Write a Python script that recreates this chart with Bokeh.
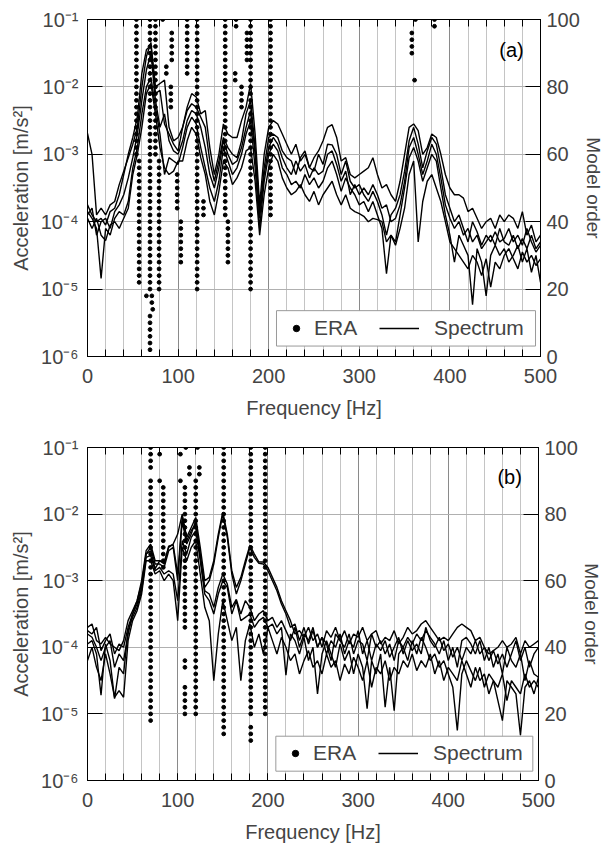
from bokeh.plotting import figure
from bokeh.models import (Range1d, LinearAxis, FixedTicker, SingleIntervalTicker,
                          Label, Legend, LegendItem, LinearScale, BoxAnnotation)
from bokeh.layouts import column
from bokeh.embed import file_html
from bokeh.resources import INLINE

FONT = "Liberation Sans"

# frequency bins [Hz]
freq = list(range(0, 501, 5))
# model orders used by ERA
model_orders = list(range(2, 101, 2))

# ---- panel (a): spectra, log10 of acceleration [m/s^2] ----
a1 = [-2.69,-3.0,-3.9,-3.8,-3.9,-3.75,-3.7,-3.45,-3.25,-3.05,-2.85,-2.6,-2.0,-1.55,-1.34,-2.0,-1.95,-1.9,-2.6,-2.8,
      -2.75,-2.6,-2.3,-2.1,-2.15,-2.4,-2.35,-2.9,-3.3,-3.0,-2.55,-2.7,-2.75,-2.75,-2.5,-2.3,-1.95,-2.7,-3.75,-3.0,
      -2.6,-2.5,-2.55,-2.7,-2.85,-3.0,-2.85,-3.1,-3.0,-3.2,-3.05,-2.95,-2.8,-2.6,-2.56,-2.75,-3.1,-3.05,-3.3,-3.35,
      -3.3,-3.25,-3.2,-3.05,-3.3,-3.5,-3.45,-3.6,-3.7,-3.4,-3.0,-2.6,-2.55,-2.65,-3.0,-2.9,-2.7,-2.75,-3.0,-3.3,
      -3.5,-3.6,-3.6,-3.65,-3.85,-3.8,-3.95,-4.1,-4.0,-3.95,-4.1,-3.9,-4.0,-3.9,-3.95,-4.1,-3.85,-4.2,-4.05,-4.3,-4.2]
a2 = [-3.75,-3.9,-4.0,-3.95,-4.05,-3.85,-3.8,-3.6,-3.3,-3.0,-2.75,-2.45,-1.8,-1.45,-1.38,-2.1,-2.05,-2.55,-2.7,-2.85,
      -2.95,-2.6,-2.35,-2.25,-2.3,-2.45,-2.6,-3.1,-3.4,-3.1,-2.75,-2.9,-3.0,-3.05,-2.8,-2.4,-2.2,-2.9,-3.85,-3.2,
      -2.75,-2.7,-2.75,-2.95,-3.05,-3.1,-3.3,-3.05,-2.95,-3.2,-3.25,-3.0,-3.15,-2.85,-2.86,-3.0,-3.3,-3.1,-3.4,-3.5,
      -3.45,-3.6,-3.7,-3.55,-3.7,-3.9,-4.2,-3.9,-3.8,-3.6,-3.25,-2.8,-2.6,-2.85,-3.2,-2.95,-2.75,-2.85,-3.2,-3.6,
      -3.8,-4.0,-3.9,-4.1,-4.3,-4.0,-4.15,-4.35,-4.2,-4.3,-4.15,-4.3,-4.25,-4.1,-4.3,-4.2,-4.35,-4.1,-4.3,-4.45,-4.35]
a3 = [-3.85,-3.95,-4.1,-4.84,-4.1,-4.2,-3.95,-3.85,-3.9,-3.7,-3.2,-2.9,-2.4,-2.0,-1.86,-2.3,-2.7,-3.3,-3.05,-3.1,
      -3.15,-2.9,-2.6,-2.45,-2.55,-2.9,-3.2,-3.5,-3.7,-3.4,-2.9,-3.1,-3.3,-3.2,-3.0,-2.7,-2.5,-3.2,-4.1,-3.4,
      -3.0,-2.85,-2.95,-3.2,-3.3,-3.45,-3.4,-3.5,-3.3,-3.45,-3.35,-3.5,-3.4,-3.2,-3.1,-3.3,-3.55,-3.35,-3.5,-3.6,
      -3.75,-3.7,-3.85,-3.7,-3.9,-4.1,-4.77,-4.2,-4.3,-3.9,-3.5,-3.05,-2.9,-3.1,-3.4,-3.2,-3.0,-3.1,-3.5,-3.9,
      -4.2,-4.6,-4.2,-4.35,-4.5,-5.23,-4.4,-4.6,-5.1,-4.5,-4.35,-4.5,-4.4,-4.6,-4.5,-4.35,-4.6,-4.4,-4.75,-4.5,-4.9]
a4 = [-3.95,-4.1,-3.95,-4.2,-4.28,-4.05,-4.0,-4.1,-3.95,-3.8,-3.3,-3.0,-2.6,-2.1,-1.95,-2.4,-2.9,-3.2,-3.3,-3.25,
      -3.1,-3.1,-2.8,-2.6,-2.7,-3.05,-3.3,-3.7,-3.9,-3.55,-3.1,-3.2,-3.45,-3.35,-3.2,-2.95,-2.9,-3.4,-4.2,-3.6,
      -3.2,-3.0,-3.1,-3.35,-3.5,-3.6,-3.55,-3.45,-3.6,-3.7,-3.55,-3.75,-3.6,-3.5,-3.4,-3.6,-3.75,-3.6,-3.8,-3.85,
      -3.88,-3.92,-4.0,-3.95,-3.97,-4.0,-4.3,-4.2,-4.35,-4.1,-3.8,-3.3,-3.1,-4.3,-3.7,-3.4,-3.3,-3.5,-3.7,-4.0,
      -4.3,-4.4,-4.5,-4.6,-4.7,-4.5,-4.6,-4.8,-4.55,-4.97,-4.6,-4.7,-4.5,-4.4,-4.55,-4.7,-4.45,-4.6,-4.5,-4.65,-4.55]
a5 = [-3.9,-3.8,-4.2,-4.0,-3.95,-4.1,-3.85,-3.75,-3.6,-3.35,-3.05,-2.7,-2.2,-1.75,-1.5,-2.2,-2.6,-2.4,-2.8,-2.95,
      -3.0,-2.8,-2.5,-2.35,-2.4,-2.6,-2.9,-3.3,-3.5,-3.2,-2.8,-3.0,-3.15,-3.1,-2.9,-2.6,-2.35,-3.0,-3.95,-3.3,
      -2.9,-2.75,-2.85,-3.05,-3.2,-3.3,-3.1,-3.25,-3.15,-3.35,-3.2,-3.3,-3.25,-3.0,-2.95,-3.15,-3.4,-3.25,-3.6,-3.45,
      -3.6,-3.5,-3.6,-3.45,-3.6,-3.8,-3.75,-4.0,-3.95,-3.75,-3.4,-2.9,-2.75,-3.0,-3.3,-3.1,-2.85,-3.0,-3.35,-3.75,
      -3.95,-4.1,-4.0,-4.2,-4.1,-4.3,-4.2,-4.4,-4.3,-4.2,-4.35,-4.1,-4.3,-4.35,-4.2,-4.4,-4.25,-4.4,-4.2,-4.4,-4.3]

# ERA stable poles, panel (a): frequency [Hz], lowest and highest model order
era_a_freq = [54, 57, 69, 65, 71, 72, 69, 75, 79, 83, 93, 87, 92, 99, 103, 110, 121, 128,
              152, 155, 164, 163, 170, 176, 180, 202, 358, 361, 362, 383]
era_a_lo   = [60, 22, 20, 18, 16, 14, 2, 60, 20, 100, 88, 84, 74, 44, 28, 84, 20, 42,
              42, 28, 98, 82, 74, 88, 20, 42, 90, 82, 100, 98]
era_a_hi   = [100, 58, 100, 18, 18, 14, 12, 100, 58, 100, 96, 86, 80, 54, 40, 100, 100, 46,
              100, 40, 100, 84, 80, 96, 100, 100, 96, 82, 100, 100]

# ---- panel (b) ----
b1 = [-3.7,-3.65,-3.9,-3.95,-3.85,-3.95,-4.0,-4.05,-3.9,-3.6,-3.45,-3.3,-3.0,-2.55,-2.45,-2.7,-2.7,-2.72,-2.5,-2.45,
      -2.3,-2.0,-2.35,-2.2,-2.05,-2.5,-3.0,-2.95,-2.7,-2.3,-1.97,-2.3,-2.85,-3.1,-2.95,-2.7,-2.47,-2.6,-2.72,-2.72,
      -2.8,-2.95,-3.1,-3.3,-3.45,-3.6,-3.8,-3.75,-3.85,-3.7,-3.9,-3.8,-4.0,-3.75,-3.85,-3.7,-3.9,-3.75,-3.95,-3.8,
      -3.85,-3.7,-3.9,-3.8,-3.75,-3.95,-3.85,-3.9,-3.75,-3.95,-3.85,-3.7,-3.8,-3.75,-3.65,-3.6,-3.7,-3.8,-3.9,-3.85,
      -3.9,-3.8,-3.7,-3.65,-3.7,-3.75,-3.9,-3.85,-4.0,-4.1,-4.05,-4.0,-3.9,-4.0,-3.95,-3.85,-4.1,-3.9,-4.0,-3.95,-3.9]
b2 = [-3.75,-3.8,-3.7,-4.05,-3.9,-3.8,-4.1,-3.95,-4.0,-3.7,-3.5,-3.35,-3.1,-2.6,-2.55,-2.82,-2.7,-2.75,-2.48,-2.46,
      -2.9,-2.05,-2.4,-2.25,-2.15,-2.6,-3.1,-3.0,-2.75,-2.35,-2.0,-2.35,-2.9,-3.2,-3.0,-2.75,-2.5,-2.65,-2.74,-2.75,
      -2.85,-3.0,-3.15,-3.35,-3.5,-3.7,-3.65,-3.9,-3.7,-3.95,-3.75,-4.0,-3.85,-3.95,-4.2,-3.8,-3.9,-4.0,-3.8,-4.1,
      -3.9,-3.95,-4.2,-3.8,-4.0,-3.9,-4.1,-3.95,-4.2,-3.9,-4.0,-3.85,-3.95,-3.8,-3.9,-3.75,-3.85,-3.95,-4.1,-3.9,
      -4.2,-4.0,-4.3,-3.9,-3.85,-3.95,-4.1,-3.9,-4.2,-4.0,-4.3,-4.1,-4.4,-4.0,-4.2,-4.3,-4.1,-4.5,-4.2,-4.4,-4.45]
b3 = [-3.95,-3.9,-4.1,-4.72,-3.95,-4.2,-4.77,-4.3,-4.4,-3.75,-3.55,-3.4,-3.15,-2.65,-2.62,-2.85,-2.8,-2.9,-2.85,-2.9,
      -3.3,-2.4,-2.6,-2.35,-2.25,-2.7,-3.2,-3.3,-3.5,-3.2,-3.0,-3.1,-3.5,-3.3,-3.6,-3.55,-3.5,-3.7,-3.6,-3.55,
      -3.7,-3.65,-3.8,-3.7,-4.42,-3.8,-3.9,-4.1,-3.85,-4.2,-4.0,-4.7,-4.1,-3.9,-4.1,-4.3,-3.95,-4.2,-4.05,-4.4,
      -4.1,-4.3,-4.92,-4.2,-4.4,-4.1,-4.9,-4.3,-4.95,-4.1,-4.0,-4.2,-3.9,-4.1,-3.85,-4.0,-4.2,-4.1,-4.3,-4.2,
      -4.4,-4.6,-5.25,-4.4,-4.2,-4.35,-4.5,-4.3,-4.6,-4.4,-4.5,-4.8,-5.1,-4.5,-4.6,-4.7,-5.32,-4.6,-4.5,-4.7,-4.45]
b4 = [-4.2,-4.0,-4.3,-4.5,-4.1,-4.4,-4.75,-4.65,-4.75,-3.9,-3.6,-3.45,-3.2,-2.7,-2.7,-2.9,-2.85,-3.0,-2.9,-3.0,
      -3.6,-2.5,-2.7,-2.5,-2.4,-2.9,-3.4,-3.6,-4.5,-3.8,-3.3,-3.6,-3.9,-3.7,-4.5,-3.9,-3.65,-4.0,-3.8,-4.1,
      -3.7,-3.9,-4.1,-3.85,-4.0,-4.2,-4.1,-4.4,-4.2,-4.05,-4.3,-4.2,-4.4,-4.1,-4.3,-4.2,-4.5,-4.25,-4.4,-4.15,
      -4.3,-4.5,-4.2,-4.6,-4.3,-4.4,-4.2,-4.5,-4.3,-4.4,-4.2,-4.3,-4.1,-4.35,-4.2,-4.3,-4.1,-4.4,-4.2,-4.5,
      -4.3,-4.4,-4.5,-4.2,-4.4,-4.6,-4.3,-4.5,-4.4,-4.7,-4.5,-4.6,-4.4,-4.8,-4.5,-4.6,-4.7,-4.4,-4.6,-4.5,-4.6]
b5 = [-3.8,-3.85,-4.0,-4.2,-4.0,-3.9,-4.3,-4.1,-4.2,-3.8,-3.5,-3.3,-3.05,-2.6,-2.5,-2.75,-2.75,-2.8,-2.55,-2.5,
      -3.0,-2.1,-2.45,-2.3,-2.1,-2.65,-3.15,-3.2,-3.4,-3.1,-2.9,-3.05,-3.4,-3.28,-3.5,-3.3,-3.4,-3.6,-3.5,-3.45,
      -3.6,-3.55,-3.7,-3.6,-3.75,-3.9,-3.7,-4.0,-3.8,-3.9,-3.7,-4.0,-3.85,-4.1,-3.9,-4.0,-3.8,-4.1,-3.9,-4.0,
      -3.75,-4.1,-3.9,-4.2,-3.95,-4.05,-3.9,-4.15,-4.0,-3.85,-4.1,-3.9,-4.05,-3.95,-4.1,-3.7,-3.9,-4.0,-3.85,-4.05,
      -3.95,-4.15,-4.0,-4.2,-4.0,-4.1,-3.9,-4.1,-4.0,-4.2,-4.05,-4.25,-4.1,-4.3,-4.1,-3.9,-4.2,-4.0,-4.3,-4.1,-4.0]

era_b_freq = [70, 70, 80, 80, 84, 103, 103, 109, 113, 108, 108, 108, 122, 124, 120, 151, 181, 181, 197]
era_b_lo   = [94, 18, 98, 90, 64, 98, 90, 100, 92, 46, 34, 20, 100, 92, 20, 14, 20, 12, 20]
era_b_hi   = [100, 90, 98, 90, 88, 98, 90, 100, 94, 88, 36, 28, 100, 94, 90, 100, 100, 16, 100]

decades = [1e-6, 1e-5, 1e-4, 1e-3, 1e-2, 1e-1]
decade_labels = ["10⁻⁶", "10⁻⁵", "10⁻⁴", "10⁻³", "10⁻²", "10⁻¹"]
order_ticks = [0, 20, 40, 60, 80, 100]


def make_panel(specs, e_freq, e_lo, e_hi, tag, fw, fh, bl, br, bt, bb, box, leg_dot, leg_line, leg_y):
    p = figure(frame_width=fw, frame_height=fh, x_range=Range1d(0, 500),
               y_range=Range1d(1e-6, 1e-1), y_axis_type="log",
               output_backend="svg", toolbar_location=None,
               min_border_left=bl, min_border_right=br, min_border_top=bt, min_border_bottom=bb,
               background_fill_color="white", border_fill_color="white")
    p.extra_y_ranges = {"order": Range1d(0, 100)}
    p.extra_y_scales = {"order": LinearScale()}
    p.outline_line_color = "black"
    p.outline_line_width = 1

    # x axis
    xt = SingleIntervalTicker(interval=100, num_minor_ticks=5)
    xa = p.xaxis[0]
    xa.ticker = xt
    xa.axis_label = "Frequency [Hz]"
    xa.major_tick_in = 7
    xa.major_tick_out = 0
    xa.minor_tick_in = 7
    xa.minor_tick_out = 0
    xa.major_label_text_font = FONT
    xa.major_label_text_font_size = "20px"
    xa.major_label_standoff = 12
    xa.axis_label_text_font = FONT
    xa.axis_label_text_font_size = "20px"
    xa.axis_label_text_font_style = "normal"
    xa.axis_label_standoff = 11
    top = LinearAxis(ticker=SingleIntervalTicker(interval=100, num_minor_ticks=5),
                     major_tick_in=7, major_tick_out=0, minor_tick_in=7, minor_tick_out=0,
                     major_label_text_color=None, major_label_text_font_size="8px",
                     major_label_standoff=0)
    p.add_layout(top, "above")

    # left log axis
    ya = p.yaxis[0]
    ya.ticker = FixedTicker(ticks=decades)
    ya.major_label_overrides = dict(zip(decades, decade_labels))
    ya.major_label_text_font = FONT
    ya.major_label_text_font_size = "20px"
    ya.major_tick_in = 15
    ya.major_tick_out = 0
    ya.minor_tick_line_color = None
    ya.major_label_standoff = 9
    ya.axis_label = "Acceleration [m/s²]"
    ya.axis_label_text_font = FONT
    ya.axis_label_text_font_size = "20px"
    ya.axis_label_text_font_style = "normal"
    ya.axis_label_standoff = 6

    # right axis: model order
    ra = LinearAxis(y_range_name="order", ticker=FixedTicker(ticks=order_ticks),
                    major_tick_in=15, major_tick_out=0, major_label_standoff=6,
                    axis_label="Model order")
    ra.major_label_text_font = FONT
    ra.major_label_text_font_size = "20px"
    ra.axis_label_text_font = FONT
    ra.axis_label_text_font_size = "19px"
    ra.axis_label_text_font_style = "normal"
    ra.axis_label_standoff = 0
    p.add_layout(ra, "right")

    # grids
    p.xgrid.ticker = xt
    p.xgrid.grid_line_color = "#8a8a8a"
    p.xgrid.minor_grid_line_color = "#c4c4c4"
    p.ygrid.grid_line_color = "#b0b0b0"

    # spectra
    for s in specs:
        p.line(freq, [10 ** v for v in s], line_color="black", line_width=1.4)

    # ERA poles
    ex_, ey_ = [], []
    for f, lo, hi in zip(e_freq, e_lo, e_hi):
        for m in model_orders:
            if lo <= m <= hi:
                ex_.append(f)
                ey_.append(m)
    p.scatter(ex_, ey_, y_range_name="order", size=3.8, color="black")

    # legend frame
    p.add_layout(BoxAnnotation(left=box[0], right=box[1], bottom=box[2], top=box[3],
                               y_range_name="order", fill_color="white", fill_alpha=1,
                               line_color="#9a9a9a", line_width=1, line_alpha=1))
    # legend samples (the sample glyphs sit outside the visible x range)
    dot = p.scatter([-1000], [50], y_range_name="order", size=7.5, color="black")
    sline = p.line([-1000, -990], [50, 50], y_range_name="order",
                   line_color="black", line_width=1.4)
    common = dict(orientation="horizontal", padding=0, margin=0, glyph_height=22,
                  label_text_font=FONT, label_text_font_size="21px",
                  border_line_color=None, background_fill_alpha=0)
    p.add_layout(Legend(items=[LegendItem(label="ERA", renderers=[dot])],
                        location=(leg_dot, leg_y), glyph_width=16, label_standoff=10, **common))
    p.add_layout(Legend(items=[LegendItem(label="Spectrum", renderers=[sline])],
                        location=(leg_line, leg_y), glyph_width=40, label_standoff=15, **common))

    p.add_layout(Label(x=468, y=91, y_range_name="order", text=tag, text_align="center",
                       text_baseline="middle", text_font=FONT, text_font_size="20px",
                       text_color="black"))
    return p


pa = make_panel([a1, a2, a3, a4, a5], era_a_freq, era_a_lo, era_a_hi, "(a)",
                453, 337, 86, 65, 19, 70, (208.6, 494.5, 3.1, 13.6), 201, 292, 16)
pb = make_panel([b1, b2, b3, b4, b5], era_b_freq, era_b_lo, era_b_hi, "(b)",
                451, 333, 87, 66, 21, 72, (208.8, 493.7, 2.8, 13.3), 200, 291, 15)

layout = column(pa, pb, spacing=0)
open("out.html", "w").write(file_html(layout, INLINE))
